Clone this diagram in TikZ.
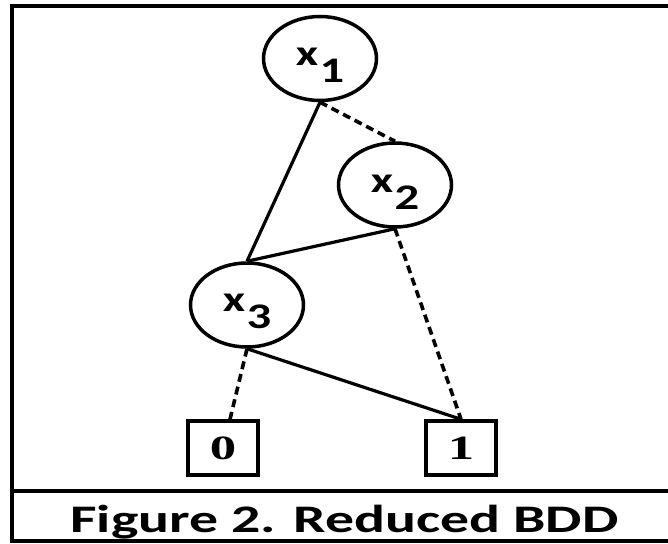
\documentclass[tikz,border=0pt]{standalone}
\usepackage{fontspec}
\newfontfamily\labelfont{Carlito}
\newfontfamily\leaffont{Liberation Serif}
\usetikzlibrary{shapes.geometric}
% variable label: bold x with a lowered index, stretched sideways
\newcommand{\bddvar}[1]{\rule{0pt}{31pt}\scalebox{1.35}[1]{\labelfont\bfseries\fontsize{36}{40}\selectfont x\kern1pt\raisebox{-17pt}{#1}}}
\newcommand{\bddleaf}[1]{\scalebox{1.55}[1]{\leaffont\bfseries\fontsize{34}{38}\selectfont #1}}
\tikzset{
  varnode/.style={ellipse, draw, line width=3.5pt, inner sep=0pt,
    minimum width=113pt, minimum height=84pt},
  leafnode/.style={rectangle, draw, line width=3.5pt, inner sep=0pt,
    minimum width=70pt, minimum height=54pt},
  hi/.style={line width=3.2pt},
  lo/.style={line width=3.6pt, dash pattern=on 8pt off 5pt},
  frameline/.style={line width=4.5pt}
}
\begin{document}
\begin{tikzpicture}[x=1pt, y=-1pt]
  \useasboundingbox (0,0) rectangle (668,543);
  % frame and caption panel
  \draw[frameline] (668,6) -- (12,6) -- (12,541) -- (668,541);
  \draw[line width=4pt] (12,491) -- (668,491);
  \node[anchor=base] (cap) at (344.5,532)
    {\scalebox{1.48}[1]{\labelfont\bfseries\fontsize{39}{44}\selectfont Figure 2. Reduced BDD}};
  % decision nodes
  \node[varnode] (x1) at (320,58.5) {\bddvar{1}};
  \node[varnode] (x2) at (395,185) {\bddvar{2}};
  \node[varnode] (x3) at (247,305) {\bddvar{3}};
  % terminals
  \node[leafnode] (b0) at (223,448) {\bddleaf{0}};
  \node[leafnode] (b1) at (461,448) {\bddleaf{1}};
  % edges: solid = high, dashed = low
  \draw[hi] (x1.south) -- (x3.north);
  \draw[lo] (x1.south) -- (x2.north);
  \draw[hi] (x2.south) -- (x3.north);
  \draw[lo] (x2.south) -- (b1.north);
  \draw[lo] (x3.south) -- ([xshift=7pt]b0.north);
  \draw[hi] (x3.south) -- (b1.north);
\end{tikzpicture}
\end{document}
